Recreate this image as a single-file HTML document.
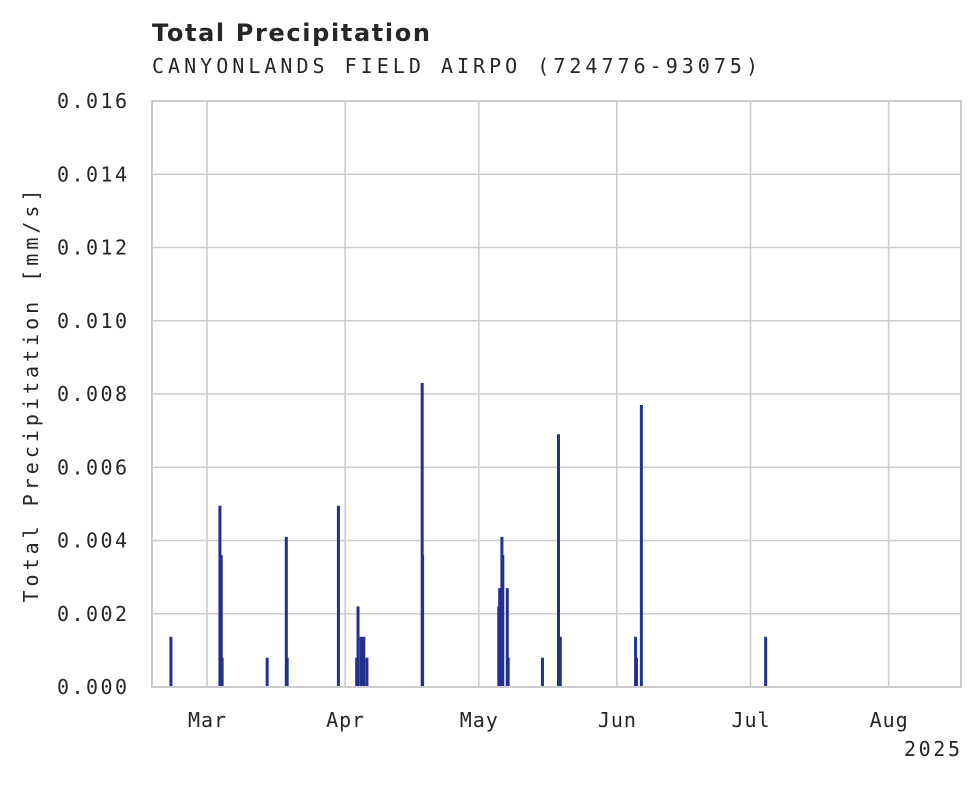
<!DOCTYPE html>
<html><head><meta charset="utf-8"><style>
body{margin:0;background:#fff;width:980px;height:783px;overflow:hidden}
svg text{fill:#262626}
.m{font-family:"DejaVu Sans Mono","Liberation Mono",monospace;font-size:20px}
</style></head><body>
<svg id="c" width="980" height="783">
<text x="152" y="41" font-family="DejaVu Sans, Liberation Sans, sans-serif" font-weight="bold" font-size="24" textLength="278" lengthAdjust="spacing">Total Precipitation</text>
<text x="152" y="73" class="m" font-size="22" textLength="606" lengthAdjust="spacing">CANYONLANDS FIELD AIRPO (724776-93075)</text>
<g id="grid"></g><g id="bars"></g><g id="axes"></g>
<text transform="translate(38,396) rotate(-90)" text-anchor="middle" class="m" font-size="22" textLength="413" lengthAdjust="spacing">Total Precipitation [mm/s]</text>
<text x="904" y="756" class="m" font-size="20" textLength="56" lengthAdjust="spacing">2025</text>
</svg>
<script>
// days since 2025-03-01 (fractional)
const barDays=[-8.1,2.9,3.2,3.4,13.5,17.8,18.0,29.5,33.6,33.9,34.6,35.2,35.9,48.3,48.4,65.5,65.7,66.2,66.4,67.4,67.6,75.3,78.9,79.3,96.2,96.4,97.5,125.4];
const barValues=[0.00137,0.00495,0.0036,0.0008,0.0008,0.0041,0.0008,0.00495,0.0008,0.0022,0.00137,0.00137,0.0008,0.0083,0.0036,0.0022,0.0027,0.0041,0.0036,0.0027,0.0008,0.0008,0.0069,0.00137,0.00137,0.0008,0.0077,0.00137];
const yTicks=[0,0.002,0.004,0.006,0.008,0.010,0.012,0.014,0.016];
const yTickLabels=["0.000","0.002","0.004","0.006","0.008","0.010","0.012","0.014","0.016"];
const monthDays=[0,31,61,92,122,153];
const monthLabels=["Mar","Apr","May","Jun","Jul","Aug"];
const L=152,R=961,T=101,B=687;
const xs=d=>207+d*4.455;
const ys=v=>B-(v/0.016)*(B-T);
const NS="http://www.w3.org/2000/svg";
function mk(tag,attrs,parent){const e=document.createElementNS(NS,tag);for(const k in attrs)e.setAttribute(k,attrs[k]);parent.appendChild(e);return e;}
const g=document.getElementById('grid'),b=document.getElementById('bars'),a=document.getElementById('axes');
yTicks.forEach((v,i)=>{
 const l=mk('line',{x1:L,x2:R,y1:ys(v),y2:ys(v),stroke:'#cccccc','stroke-width':1.6},g);
 
 
 const t=mk('text',{x:57,y:ys(v)+7,class:'m',"font-size":21,textLength:70,lengthAdjust:'spacing'},a);
 t.textContent=yTickLabels[i];
 
 
});
monthDays.forEach((d,i)=>{
 const x=xs(d);
 const l=mk('line',{x1:x,x2:x,y1:T,y2:B,stroke:'#cccccc','stroke-width':1.6},g);
 
 
 const t=mk('text',{x:x-19,y:727,class:'m',"font-size":18,textLength:38,lengthAdjust:'spacing'},a);
 t.textContent=monthLabels[i];
 
 
});
barDays.forEach((d,i)=>{
 const y=ys(barValues[i]);
 const r=mk('rect',{x:xs(d)-1.5,y:y,width:3,height:B-y,fill:'#23318f'},b);
 
 
});
const f=mk('rect',{x:L,y:T,width:R-L,height:B-T,fill:'none',stroke:'#cccccc','stroke-width':2},a);


</script>
</body></html>
